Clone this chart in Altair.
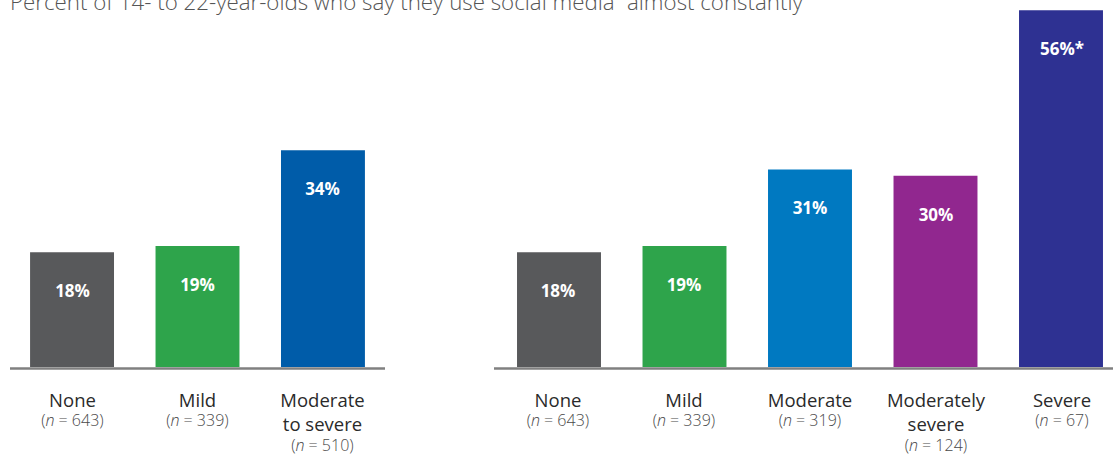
import altair as alt
import pandas as pd

# ---------------- data ----------------
title_text = ["Percent of 14- to 22-year-olds who say they use social media \u201calmost constantly\u201d"]

left_keys = ["None", "Mild", "Moderate to severe"]
left_labels = ["None", "Mild", "Moderate\nto severe"]
left_values = [18, 19, 34]
left_value_text = ["18%", "19%", "34%"]
left_n = [643, 339, 510]
left_colors = ["#58595b", "#2ea44b", "#005ca9"]

right_keys = ["None", "Mild", "Moderate", "Moderately severe", "Severe"]
right_labels = ["None", "Mild", "Moderate", "Moderately\nsevere", "Severe"]
right_values = [18, 19, 31, 30, 56]
right_value_text = ["18%", "19%", "31%", "30%", "56%*"]
right_n = [643, 339, 319, 124, 67]
right_colors = ["#58595b", "#2ea44b", "#0079c1", "#91278f", "#2e3192"]

FONT = "Open Sans"


def make_df(keys, labels, values, vtext, ns):
    df = pd.DataFrame({"key": keys, "label": labels, "value": values,
                       "vtext": vtext, "n": ns})
    df["lines"] = df["label"].str.count("\n") + 1
    df["rest"] = df["n"].map(lambda v: f"= {v})")
    df["digits"] = df["n"].astype(str).str.len()
    return df


left_df = make_df(left_keys, left_labels, left_values, left_value_text, left_n)
right_df = make_df(right_keys, right_labels, right_values, right_value_text, right_n)

Y = alt.Y("value:Q", scale=alt.Scale(domain=[0, 57.6], range=[367, 0]), axis=None)


def panel(df, keys, colors, rng, pad_outer):
    X = alt.X("key:N", axis=None,
              scale=alt.Scale(domain=keys, range=rng, paddingInner=0.331,
                              paddingOuter=pad_outer))
    base = alt.Chart(df)
    layers = []
    layers.append(base.mark_bar().encode(
        x=X, y=Y,
        color=alt.Color("key:N", scale=alt.Scale(domain=keys, range=colors), legend=None)))
    layers.append(base.mark_text(dy=40, baseline="middle", color="white",
                                 fontWeight="bold", fontSize=17, font=FONT).encode(
        x=X, y=Y, text="vtext:N"))
    layers.append(base.mark_text(baseline="alphabetic", fontSize=18.5, lineBreak="\n",
                                 lineHeight=24, color="#2a2a2a", font=FONT,
                                 fontWeight=400).encode(
        x=X, y=alt.value(407), text="label:N"))
    # n-lines: "(" + italic "n" + "= 643)"
    k = 16 / 15
    for lines, ypos in [(1, 426), (2, 451)]:
        for digits in [2, 3]:
            sub = df[(df["lines"] == lines) & (df["digits"] == digits)]
            if len(sub) == 0:
                continue
            wp, wn, ws, wd, weq = 4.4 * k, 8.3 * k, 3.9 * k, 8.6 * k, 8.6 * k
            W = wp + wn + ws + weq + ws + digits * wd + wp
            dxn = wn / 2 + wp - W / 2
            sb = alt.Chart(sub)
            common = dict(baseline="alphabetic", fontSize=16, color="#4a4a4a", font=FONT,
                          fontWeight=300)
            layers.append(sb.mark_text(align="right", dx=dxn - wn / 2, **common).encode(
                x=X, y=alt.value(ypos), text=alt.value("(")))
            layers.append(sb.mark_text(align="center", dx=dxn, fontStyle="italic",
                                       **common).encode(
                x=X, y=alt.value(ypos), text=alt.value("n")))
            layers.append(sb.mark_text(align="left", dx=dxn + wn / 2 + ws, **common).encode(
                x=X, y=alt.value(ypos), text="rest:N"))
    return layers


layers = []
layers.append(alt.Chart(pd.DataFrame({"t": title_text})).mark_text(
    align="left", baseline="alphabetic", fontSize=22.3, color="#555555", font=FONT,
    fontWeight=300).encode(x=alt.value(10), y=alt.value(10), text="t:N"))

rule_df = pd.DataFrame({"a": [0]})
layers.append(alt.Chart(rule_df).mark_rule(color="#808080", strokeWidth=2.5).encode(
    x=alt.value(10), x2=alt.value(385), y=alt.value(368.5)))
layers.append(alt.Chart(rule_df).mark_rule(color="#808080", strokeWidth=2.5).encode(
    x=alt.value(494), x2=alt.value(1113), y=alt.value(368.5)))

layers += panel(left_df, left_keys, left_colors, [10, 385], 0.16)
layers += panel(right_df, right_keys, right_colors, [495, 1125], 0.1755)

chart = alt.layer(*layers).resolve_scale(x="independent", color="independent").properties(
    width=1113, height=455, padding=0,
    autosize=alt.AutoSizeParams(type="none"),
).configure_view(stroke=None)

chart.save("out.html", embed_options={"renderer": "svg", "actions": False})
